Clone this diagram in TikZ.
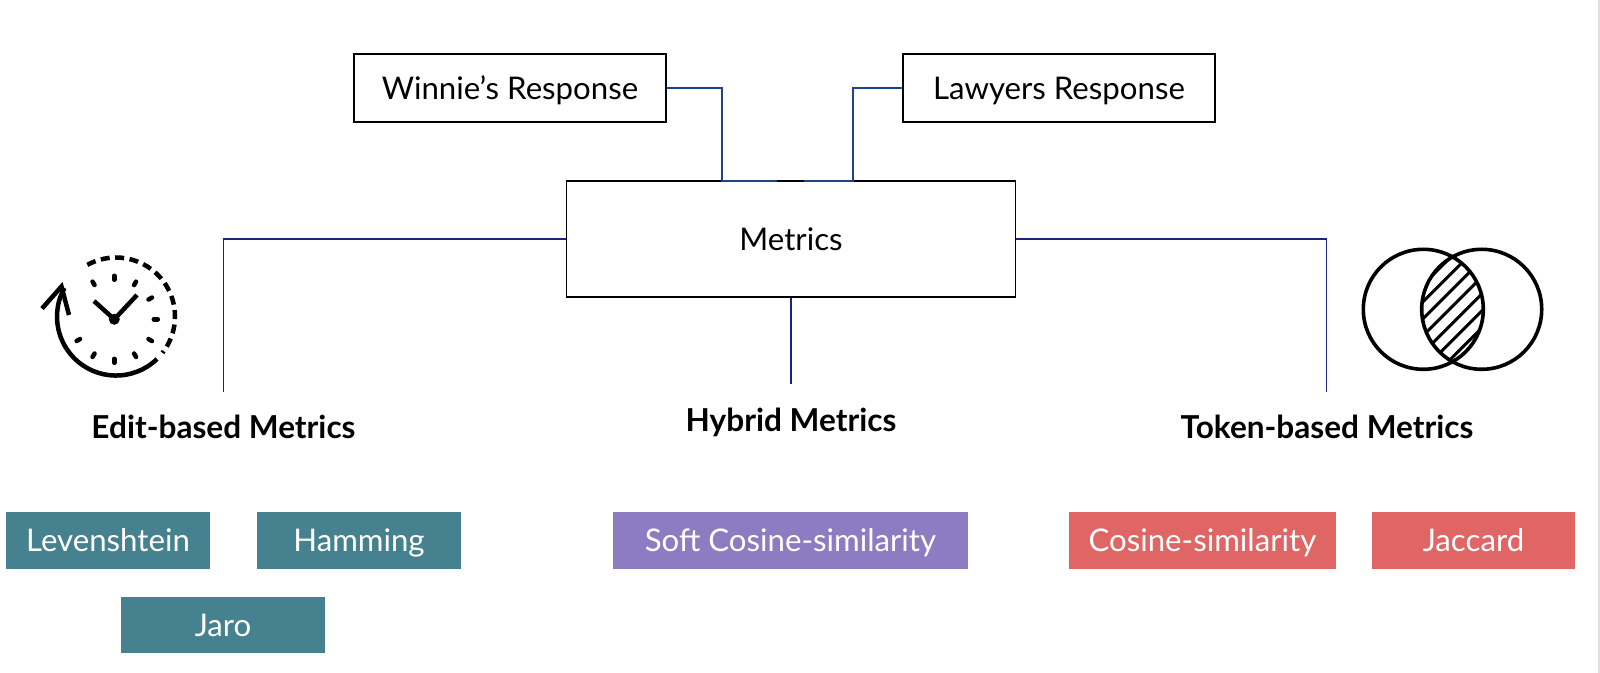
\documentclass[tikz,border=0pt]{standalone}
\usepackage{fontspec}
\setmainfont{Lato}
\definecolor{wireblue}{HTML}{1C4587}
\definecolor{wirenavy}{HTML}{1A237E}
\definecolor{chipteal}{HTML}{45818E}
\definecolor{chippurple}{HTML}{8E7CC3}
\definecolor{chipred}{HTML}{E06666}
\tikzset{
  inbox/.style={draw=black,line width=0.016cm,minimum width=3.12cm,minimum height=0.68cm,inner sep=0pt,text height=0.28cm,text depth=0.06cm,font=\fontsize{8.87}{11}\selectfont},
  chipbox/.style={minimum width=2.04cm,minimum height=0.565cm,inner sep=0pt,text=white,text height=0.28cm,text depth=0.06cm,font=\fontsize{8.87}{11}\selectfont},
  headlabel/.style={inner sep=0pt,text height=0.28cm,text depth=0.06cm,font=\fontsize{8.98}{11}\selectfont\bfseries},
  wire/.style={line width=0.016cm},
  iconline/.style={line width=0.045cm,line cap=butt}
}
\begin{document}
\begin{tikzpicture}[x=0.01cm,y=-0.01cm]
  \useasboundingbox (0,0) rectangle (1600,673);
  \fill [white] (0,0) rectangle (1600,673);
  \draw [black!12,line width=0.02cm] (1598.5,0) -- (1598.5,673);

  \node [inbox] (winnie) at (510,88) {Winnie’s Response};
  \node [inbox] (lawyers) at (1059,88) {Lawyers Response};
  \node [inbox,minimum width=4.485cm,minimum height=1.16cm] (metrics) at (791,239) {Metrics};

  \coordinate (tapleft) at (722,181);
  \coordinate (tapleftend) at (777,181);
  \coordinate (tapright) at (853,181);
  \coordinate (taprightend) at (804,181);
  \coordinate (editend) at (223.5,392);
  \coordinate (hybridend) at (791,384);
  \coordinate (tokenend) at (1326.5,392);

  \draw [wire,wireblue] (winnie.east) -| (tapleft) -- (tapleftend);
  \draw [wire,wireblue] (lawyers.west) -| (tapright) -- (taprightend);
  \draw [wire,wirenavy] (metrics.west) -| (editend);
  \draw [wire,wirenavy] (metrics.south) -- (hybridend);
  \draw [wire,wirenavy] (metrics.east) -| (tokenend);

  \node [headlabel] (edit) at (223.5,427) {Edit-based Metrics};
  \node [headlabel] (hybrid) at (791,420) {Hybrid Metrics};
  \node [headlabel] (token) at (1327,427) {Token-based Metrics};

  \node [chipbox,fill=chipteal] (levenshtein) at (108,540.5) {Levenshtein};
  \node [chipbox,fill=chipteal] (hamming) at (359,540.5) {Hamming};
  \node [chipbox,fill=chipteal] (jaro) at (223,625) {Jaro};
  \node [chipbox,fill=chippurple,minimum width=3.55cm] (soft) at (790.5,540.5) {Soft Cosine-similarity};
  \node [chipbox,fill=chipred,minimum width=2.67cm] (cosine) at (1202.5,540.5) {Cosine-similarity};
  \node [chipbox,fill=chipred,minimum width=2.03cm] (jaccard) at (1473.5,540.5) {Jaccard};

  \draw [iconline] (157,359) arc (46:209:59);
  \draw [iconline,line join=miter] (42,308.5) -- (61.5,286.5) -- (69,315);
  \draw [iconline,dash pattern=on 0.09cm off 0.055cm] (87.4,264.9) arc (241:398:59);
  \foreach \ang in {-120,-90,-60,-30,0,30,60,90,120,150}
    \draw [iconline,line cap=round] (114.3,319.3) ++(\ang:39.5) -- ++(\ang:4);
  \draw [iconline] (94,301) -- (114.3,319.3) -- (137,295);
  \fill (114.3,319.3) circle (5.5);

  \begin{scope}
    \clip (1423.3,309.3) circle (60);
    \clip (1481.7,309.3) circle (60);
    \foreach \k in {-88,-71,-54,-37,-20,-3,14,31,48,65,82}
      \draw [line width=0.03cm] (1372.5,309.3+\k+80) -- (1532.5,309.3+\k-80);
  \end{scope}
  \draw [line width=0.036cm] (1423.3,309.3) circle (60);
  \draw [line width=0.036cm] (1481.7,309.3) circle (60);
\end{tikzpicture}
\end{document}
